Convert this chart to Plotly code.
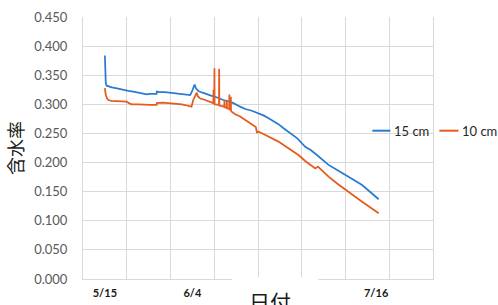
import plotly.graph_objects as go

dates_15 = [
    "2019-05-15 00:00", "2019-05-15 01:00", "2019-05-15 02:00", "2019-05-15 05:00", "2019-05-15 10:00",
    "2019-05-16 00:00", "2019-05-16 14:00", "2019-05-17 12:00", "2019-05-18 21:00", "2019-05-20 09:00",
    "2019-05-21 12:00", "2019-05-22 16:00", "2019-05-23 12:00", "2019-05-24 14:00", "2019-05-25 06:00",
    "2019-05-26 02:00", "2019-05-26 20:00", "2019-05-26 21:00", "2019-05-27 12:00", "2019-05-28 18:00",
    "2019-05-29 22:00", "2019-05-31 00:00", "2019-06-01 05:00", "2019-06-02 12:00", "2019-06-03 12:00",
    "2019-06-03 22:00", "2019-06-04 12:00", "2019-06-04 20:00", "2019-06-05 09:00", "2019-06-06 08:00",
    "2019-06-07 07:00", "2019-06-08 06:00", "2019-06-09 05:00", "2019-06-10 04:00", "2019-06-11 02:00",
    "2019-06-12 06:00", "2019-06-13 09:00", "2019-06-14 22:00", "2019-06-16 02:00", "2019-06-17 14:00",
    "2019-06-19 03:00", "2019-06-20 06:00", "2019-06-21 10:00", "2019-06-22 12:00", "2019-06-23 16:00",
    "2019-06-24 20:00", "2019-06-26 00:00", "2019-06-27 00:00", "2019-06-27 22:00", "2019-06-29 19:00",
    "2019-07-01 03:00", "2019-07-02 11:00", "2019-07-03 19:00", "2019-07-05 03:00", "2019-07-07 02:00",
    "2019-07-09 00:00", "2019-07-10 22:00", "2019-07-12 19:00", "2019-07-14 16:00", "2019-07-16 14:00",
]
values_15 = [
    0.384, 0.362, 0.345, 0.336, 0.332,
    0.330, 0.329, 0.328, 0.325, 0.323,
    0.322, 0.320, 0.319, 0.317, 0.318,
    0.318, 0.318, 0.322, 0.321, 0.321,
    0.320, 0.319, 0.318, 0.317, 0.316,
    0.322, 0.334, 0.327, 0.323, 0.320,
    0.317, 0.315, 0.313, 0.310, 0.3075,
    0.305, 0.302, 0.296, 0.292, 0.289,
    0.285, 0.281, 0.276, 0.271, 0.266,
    0.259, 0.253, 0.247, 0.242, 0.227,
    0.221, 0.213, 0.204, 0.196, 0.187,
    0.179, 0.170, 0.1615, 0.150, 0.137,
]

dates_10 = [
    "2019-05-15 00:00", "2019-05-15 02:00", "2019-05-15 05:00", "2019-05-15 12:00", "2019-05-15 19:00",
    "2019-05-16 12:00", "2019-05-17 08:00", "2019-05-18 12:00", "2019-05-20 00:00", "2019-05-20 12:00",
    "2019-05-21 03:00", "2019-05-22 12:00", "2019-05-24 05:00", "2019-05-25 12:00", "2019-05-26 20:00",
    "2019-05-26 21:00", "2019-05-28 06:00", "2019-05-29 22:00", "2019-05-31 06:00", "2019-06-01 14:00",
    "2019-06-02 18:00", "2019-06-03 19:00", "2019-06-04 05:00", "2019-06-05 00:00", "2019-06-05 06:00",
    "2019-06-05 19:00", "2019-06-06 22:00", "2019-06-08 02:00", "2019-06-08 19:00", "2019-06-08 20:00",
    "2019-06-08 21:00", "2019-06-09 00:00", "2019-06-09 01:00", "2019-06-09 02:00", "2019-06-10 02:00",
    "2019-06-10 03:00", "2019-06-10 04:00", "2019-06-11 07:00", "2019-06-11 08:00", "2019-06-11 09:00",
    "2019-06-11 20:00", "2019-06-11 21:00", "2019-06-11 22:00", "2019-06-12 10:00", "2019-06-12 11:00",
    "2019-06-12 12:00", "2019-06-12 18:00", "2019-06-12 19:00", "2019-06-12 20:00", "2019-06-13 01:00",
    "2019-06-13 19:00", "2019-06-14 22:00", "2019-06-16 02:00", "2019-06-17 00:00", "2019-06-18 00:00",
    "2019-06-18 12:00", "2019-06-18 18:00", "2019-06-19 03:00", "2019-06-20 06:00", "2019-06-21 10:00",
    "2019-06-22 12:00", "2019-06-23 16:00", "2019-06-24 20:00", "2019-06-26 00:00", "2019-06-27 03:00",
    "2019-06-28 06:00", "2019-06-29 19:00", "2019-07-01 00:00", "2019-07-02 02:00", "2019-07-02 17:00",
    "2019-07-03 22:00", "2019-07-05 03:00", "2019-07-07 02:00", "2019-07-09 00:00", "2019-07-10 22:00",
    "2019-07-12 19:00", "2019-07-14 16:00", "2019-07-16 14:00",
]
values_10 = [
    0.328, 0.322, 0.316, 0.310, 0.3075,
    0.306, 0.3057, 0.305, 0.3046, 0.302,
    0.300, 0.300, 0.299, 0.299, 0.299,
    0.302, 0.303, 0.302, 0.301, 0.300,
    0.298, 0.296, 0.3075, 0.320, 0.314,
    0.310, 0.3075, 0.3046, 0.302, 0.325,
    0.301, 0.300, 0.362, 0.300, 0.299,
    0.361, 0.298, 0.296, 0.307, 0.295,
    0.294, 0.306, 0.293, 0.292, 0.317,
    0.291, 0.290, 0.313, 0.289, 0.287,
    0.283, 0.279, 0.273, 0.268, 0.2633,
    0.261, 0.252, 0.253, 0.249, 0.2445,
    0.240, 0.236, 0.230, 0.2245, 0.219,
    0.213, 0.2027, 0.196, 0.190, 0.193,
    0.184, 0.1757, 0.164, 0.1529, 0.143,
    0.1328, 0.123, 0.113,
]

series_names = ["15 cm", "10 cm"]
series_colors = ["#2A7AD2", "#E65A1A"]
x_tick_vals = ["2019-05-15", "2019-06-04", "2019-07-16"]
x_tick_text = ["5/15", "6/4", "7/16"]
y_tick_vals = [0, 0.05, 0.1, 0.15, 0.2, 0.25, 0.3, 0.35, 0.4, 0.45]
y_title = "含水率"
x_title = "日付"

W, H = 498, 305
L, R, T, B = 83, 65.4, 17, 26
pw = W - L - R
ph = H - T - B

def px_x(x):
    return (x - L) / pw

def px_y(y):
    return (H - B - y) / ph

fig = go.Figure()
for d, v, name, col in zip([dates_15, dates_10], [values_15, values_10], series_names, series_colors):
    fig.add_trace(go.Scatter(x=d, y=v, mode="lines", name=name,
                             line=dict(color=col, width=1.75), showlegend=False))

grid = "#D9D9D9"
fig.update_layout(
    width=W, height=H,
    margin=dict(l=L, r=R, t=T, b=B, autoexpand=False),
    paper_bgcolor="white", plot_bgcolor="white",
    font=dict(family="Lato", color="#595959"),
    xaxis=dict(
        type="date", range=["2019-05-10", "2019-07-29"],
        tickmode="array", tickvals=x_tick_vals, ticktext=x_tick_text,
        showgrid=False, ticks="", ticklabelstandoff=4,
        tickfont=dict(size=11, color="#1a1a1a", family="Lato", weight="bold"),
        showline=True, linecolor=grid, linewidth=1,
        minor=dict(tick0="2019-05-10", dtick=864000000, showgrid=True,
                   gridcolor=grid, gridwidth=1, ticks=""),
        zeroline=False,
    ),
    yaxis=dict(
        range=[0, 0.45], tickmode="array", tickvals=y_tick_vals,
        tickformat=".3f", showgrid=True, gridcolor=grid, gridwidth=1,
        ticks="", ticklabelstandoff=12,
        tickfont=dict(size=13, color="#595959", family="Lato"),
        showline=True, mirror=True, linecolor=grid, linewidth=1,
        zeroline=False,
        title=dict(text=y_title, standoff=5,
                   font=dict(size=18, color="#1a1a1a", family="Noto Sans CJK JP")),
    ),
)

# white box behind x-axis title (covers axis line as in the original)
fig.add_shape(type="rect", xref="paper", yref="paper",
              x0=px_x(232), x1=px_x(318), y0=px_y(306), y1=px_y(277),
              fillcolor="white", line=dict(width=0), layer="above")
fig.add_annotation(text=x_title, xref="paper", yref="paper",
                   x=px_x(270), y=px_y(284), xanchor="center", yanchor="top",
                   showarrow=False,
                   font=dict(size=21, color="#1a1a1a", family="Noto Sans CJK JP"))

# legend drawn manually
leg_y = px_y(130.7)
leg = [(372, 390, 392.7), (439, 458, 460.7)]
for (x0, x1, xt), name, col in zip(leg, series_names, series_colors):
    fig.add_shape(type="line", xref="paper", yref="paper",
                  x0=px_x(x0), x1=px_x(x1), y0=leg_y, y1=leg_y,
                  line=dict(color=col, width=2), layer="above")
    fig.add_annotation(text=name, xref="paper", yref="paper",
                       x=px_x(xt), y=leg_y, xanchor="left", yanchor="middle",
                       showarrow=False, borderpad=0,
                       font=dict(size=13, color="#262626", family="Lato"))

fig.write_html("out.html", config={"displayModeBar": False},
               post_script="document.body.style.margin='0';document.body.style.overflow='hidden';")
